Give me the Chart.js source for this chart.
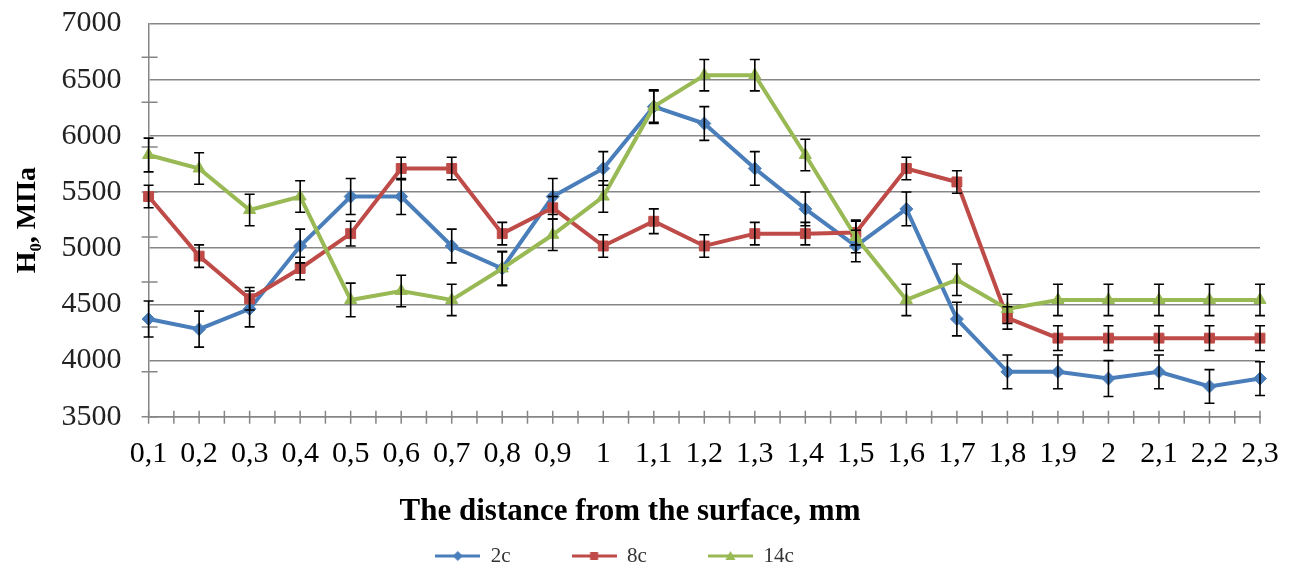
<!DOCTYPE html>
<html>
<head>
<meta charset="utf-8">
<script src="https://cdn.jsdelivr.net/npm/chart.js@4.4.1/dist/chart.umd.min.js"></script>
<style>
html, body { margin: 0; padding: 0; background: #fff; }
#wrap { width: 1289px; height: 566px; }
</style>
</head>
<body>
<div id="wrap"><canvas id="c" width="1289" height="566"></canvas></div>
<script>
const categories = ['0,1','0,2','0,3','0,4','0,5','0,6','0,7','0,8','0,9','1','1,1','1,2','1,3','1,4','1,5','1,6','1,7','1,8','1,9','2','2,1','2,2','2,3'];
const seriesNames = ['2c', '8c', '14c'];
const values2c  = [4370, 4280, 4460, 5020, 5460, 5460, 5020, 4820, 5460, 5710, 6260, 6110, 5710, 5350, 5020, 5350, 4370, 3900, 3900, 3840, 3900, 3770, 3840];
const values8c  = [5460, 4930, 4550, 4820, 5130, 5710, 5710, 5130, 5360, 5020, 5240, 5020, 5130, 5130, 5140, 5710, 5590, 4380, 4200, 4200, 4200, 4200, 4200];
const values14c = [5830, 5710, 5340, 5460, 4540, 4620, 4540, 4820, 5120, 5460, 6260, 6540, 6540, 5830, 5100, 4540, 4720, 4460, 4540, 4540, 4540, 4540, 4540];
const errors2c  = [160, 160, 160, 150, 160, 160, 150, 150, 160, 150, 150, 150, 150, 150, 140, 150, 150, 150, 150, 160, 150, 150, 150];
const errors8c  = [100, 100, 100, 100, 110, 100, 100, 100, 100, 100, 110, 100, 100, 100, 110, 100, 100, 100, 110, 110, 110, 110, 110];
const errors14c = [150, 140, 140, 140, 150, 140, 140, 150, 140, 140, 140, 140, 140, 140, 140, 140, 140, 130, 140, 140, 140, 140, 140];
const yTickLabels = [3500, 4000, 4500, 5000, 5500, 6000, 6500, 7000];

const colors = ['#4A7EBB', '#BE4B48', '#98B954'];
const shapes = ['rectRot', 'rect', 'triangle'];
const radii = [6.5, 7, 7];
const errorSets = [errors2c, errors8c, errors14c];
const GRID = '#868686';
const SERIF = "'Liberation Serif', 'Times New Roman', serif";

function swatch(color, shape) {
  const c = document.createElement('canvas');
  c.width = 45; c.height = 16;
  const g = c.getContext('2d');
  g.strokeStyle = color; g.lineWidth = 3;
  g.beginPath(); g.moveTo(0, 8); g.lineTo(45, 8); g.stroke();
  g.fillStyle = color;
  g.beginPath();
  if (shape === 'rectRot') { g.moveTo(22.5, 3); g.lineTo(27.5, 8); g.lineTo(22.5, 13); g.lineTo(17.5, 8); }
  else if (shape === 'rect') { g.rect(18.5, 4, 8, 8); }
  else { g.moveTo(22.5, 3); g.lineTo(27.5, 12); g.lineTo(17.5, 12); }
  g.closePath(); g.fill();
  return c;
}
const swatches = colors.map((c, i) => swatch(c, shapes[i]));

const axisTicks = {
  id: 'axisTicks',
  beforeDatasetsDraw(chart) {
    const {ctx, chartArea, scales: {x, y}} = chart;
    ctx.save();
    ctx.strokeStyle = GRID; ctx.lineWidth = 1.5;
    ctx.beginPath();
    for (let v = y.min; v <= y.max + 0.1; v += 400) {
      const py = y.getPixelForValue(v);
      ctx.moveTo(chartArea.left - 7, py); ctx.lineTo(chartArea.left + 9, py);
    }
    for (let k = 0; k <= categories.length - 1; k += 0.5) {
      const px = x.getPixelForValue(k);
      ctx.moveTo(px, chartArea.bottom - 6); ctx.lineTo(px, chartArea.bottom + 7);
    }
    ctx.stroke();
    ctx.restore();
  }
};

const errorBars = {
  id: 'errorBars',
  afterDatasetsDraw(chart) {
    const {ctx, scales: {y}} = chart;
    ctx.save();
    ctx.strokeStyle = '#000'; ctx.lineWidth = 1.6;
    chart.data.datasets.forEach((ds, d) => {
      const meta = chart.getDatasetMeta(d);
      const errs = errorSets[d];
      meta.data.forEach((pt, i) => {
        const v = ds.data[i];
        const top = y.getPixelForValue(v + errs[i]);
        const bot = y.getPixelForValue(v - errs[i]);
        ctx.beginPath();
        ctx.moveTo(pt.x, top); ctx.lineTo(pt.x, bot);
        ctx.moveTo(pt.x - 5, top); ctx.lineTo(pt.x + 5, top);
        ctx.moveTo(pt.x - 5, bot); ctx.lineTo(pt.x + 5, bot);
        ctx.stroke();
      });
    });
    ctx.restore();
  }
};

const legendPlace = {
  id: 'legendPlace',
  afterLayout(chart) {
    const lg = chart.legend;
    if (!lg) return;
    lg.top = 484.5; lg.bottom = 566;
    lg.left = -30; lg.right = 1259;
  }
};

const seriesValues = [values2c, values8c, values14c];
const datasets = seriesValues.map((vals, i) => ({
  label: seriesNames[i],
  data: vals,
  borderColor: colors[i],
  backgroundColor: colors[i],
  borderWidth: 4,
  pointStyle: shapes[i],
  pointRadius: radii[i],
  pointBorderWidth: 1,
  pointBackgroundColor: colors[i],
  pointBorderColor: colors[i],
  tension: 0,
  fill: false,
  order: 2 - i
}));

new Chart(document.getElementById('c'), {
  type: 'line',
  data: { labels: categories, datasets },
  plugins: [axisTicks, errorBars, legendPlace],
  options: {
    responsive: false,
    animation: false,
    devicePixelRatio: 1,
    layout: { padding: { top: 23.5, right: 29, bottom: 0, left: 0 } },
    font: { family: SERIF },
    plugins: {
      tooltip: { enabled: false },
      title: {
        display: true,
        text: 'The distance from the surface, mm',
        position: 'bottom',
        weight: 500,
        color: '#000',
        font: { family: SERIF, size: 31, weight: 'bold' },
        padding: { top: 17, bottom: 5 }
      },
      legend: {
        display: true,
        position: 'bottom',
        maxHeight: 30,
        labels: {
          usePointStyle: true,
          pointStyleWidth: 45,
          padding: 61,
          color: '#333',
          font: { family: SERIF, size: 21 },
          sort: (a, b) => a.datasetIndex - b.datasetIndex,
          generateLabels(chart) {
            const items = Chart.defaults.plugins.legend.labels.generateLabels(chart);
            items.forEach(it => { it.pointStyle = swatches[it.datasetIndex]; });
            return items;
          }
        }
      }
    },
    scales: {
      x: {
        type: 'category',
        offset: false,
        grid: { display: false, drawTicks: true, tickLength: 14, tickColor: 'rgba(0,0,0,0)' },
        border: { display: true, color: GRID, width: 1.5 },
        ticks: {
          autoSkip: false, maxRotation: 0, minRotation: 0,
          padding: 5, color: '#000',
          font: { family: SERIF, size: 30 }
        }
      },
      y: {
        type: 'linear',
        min: yTickLabels[0],
        max: yTickLabels[yTickLabels.length - 1],
        afterBuildTicks(scale) { scale.ticks = yTickLabels.map(v => ({ value: v })); },
        grid: { color: GRID, lineWidth: 1.5, drawTicks: true, tickLength: 22, tickColor: 'rgba(0,0,0,0)' },
        border: { display: true, color: GRID, width: 1.5 },
        ticks: {
          padding: 5, color: '#222',
          font: { family: SERIF, size: 30 },
          callback: (v) => String(v)
        },
        title: {
          display: true,
          text: 'H₀, MПа',
          color: '#000',
          font: { family: SERIF, size: 28, weight: 'bold' },
          padding: { top: 11, bottom: 12 }
        }
      }
    }
  }
});
</script>
</body>
</html>
